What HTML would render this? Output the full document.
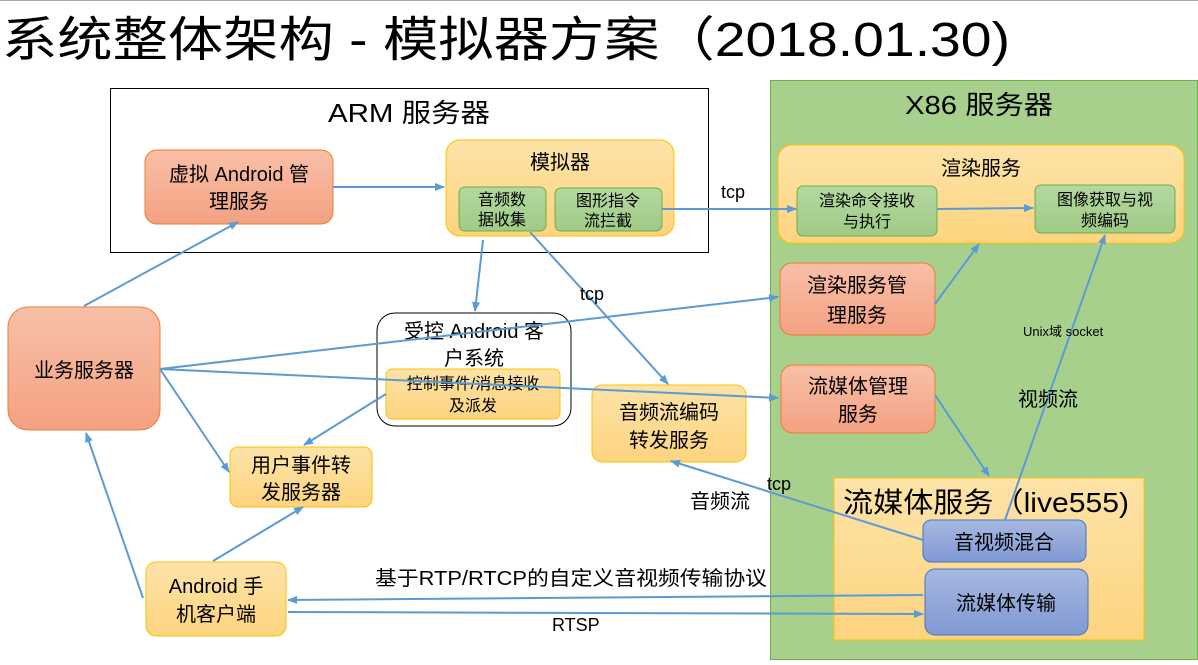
<!DOCTYPE html>
<html><head><meta charset="utf-8"><style>
html,body{margin:0;padding:0;background:#fff;}
svg{display:block;font-family:"Liberation Sans","Noto Sans CJK SC",sans-serif;}
</style></head><body>
<svg width="1198" height="665" viewBox="0 0 1198 665" xmlns="http://www.w3.org/2000/svg">
<defs>
<linearGradient id="sal" x1="0" y1="0" x2="0" y2="1"><stop offset="0" stop-color="#f8c0a8"/><stop offset="1" stop-color="#f4a182"/></linearGradient>
<linearGradient id="org" x1="0" y1="0" x2="0" y2="1"><stop offset="0" stop-color="#fde3a8"/><stop offset="1" stop-color="#fdd47f"/></linearGradient>
<linearGradient id="grn" x1="0" y1="0" x2="0" y2="1"><stop offset="0" stop-color="#b5d8a0"/><stop offset="1" stop-color="#9ecb85"/></linearGradient>
<linearGradient id="blu" x1="0" y1="0" x2="0" y2="1"><stop offset="0" stop-color="#a8b8e0"/><stop offset="1" stop-color="#8099d3"/></linearGradient>
<marker id="ar" markerWidth="10" markerHeight="8" refX="9" refY="4" orient="auto" markerUnits="userSpaceOnUse"><path d="M0,0 L10,4 L0,8 z" fill="#5b9bd5"/></marker>
</defs>
<line x1="0" y1="0.5" x2="1198" y2="0.5" stroke="#aaa"/>
<text x="2" y="56" font-size="48" textLength="1008" lengthAdjust="spacingAndGlyphs">系统整体架构 - 模拟器方案（2018.01.30)</text>

<rect x="770.5" y="80.5" width="427" height="579" fill="#a8d08d" stroke="#70ad47"/>
<text x="905" y="114" font-size="26" textLength="148" lengthAdjust="spacingAndGlyphs">X86 服务器</text>

<rect x="110.5" y="88.5" width="598" height="164" fill="#fff" stroke="#000"/>
<text x="328" y="122" font-size="26" textLength="162" lengthAdjust="spacingAndGlyphs">ARM 服务器</text>

<g font-size="20" text-anchor="middle">
<rect x="145" y="150" width="188" height="74" rx="12" fill="url(#sal)" stroke="#ed7d31"/>
<text x="239" y="181">虚拟 Android 管</text><text x="239" y="208">理服务</text>

<rect x="446" y="140" width="228" height="96" rx="14" fill="url(#org)" stroke="#ffc000"/>
<text x="560" y="169">模拟器</text>
<g font-size="16">
<rect x="459" y="187" width="87" height="44" rx="6" fill="url(#grn)" stroke="#70ad47"/>
<text x="502" y="205">音频数</text><text x="502" y="225">据收集</text>
<rect x="555" y="188" width="107" height="43" rx="6" fill="url(#grn)" stroke="#70ad47"/>
<text x="608" y="206">图形指令</text><text x="608" y="226">流拦截</text>
</g>

<rect x="778" y="145" width="406" height="98" rx="14" fill="url(#org)" stroke="#ffc000"/>
<text x="981" y="175">渲染服务</text>
<g font-size="16">
<rect x="797" y="186" width="140" height="50" rx="6" fill="url(#grn)" stroke="#70ad47"/>
<text x="867" y="206">渲染命令接收</text><text x="867" y="227">与执行</text>
<rect x="1035" y="185" width="140" height="48" rx="6" fill="url(#grn)" stroke="#70ad47"/>
<text x="1105" y="205">图像获取与视</text><text x="1105" y="226">频编码</text>
</g>

<rect x="780" y="263" width="155" height="72" rx="12" fill="url(#sal)" stroke="#ed7d31"/>
<text x="857" y="292">渲染服务管</text><text x="857" y="322">理服务</text>
<rect x="781" y="365" width="154" height="68" rx="12" fill="url(#sal)" stroke="#ed7d31"/>
<text x="858" y="393">流媒体管理</text><text x="858" y="421">服务</text>

<rect x="834" y="478" width="310" height="162" fill="url(#org)" stroke="#ffc000"/>
<text x="843" y="512" font-size="28" text-anchor="start" textLength="286" lengthAdjust="spacingAndGlyphs">流媒体服务（live555)</text>
<rect x="923" y="520" width="163" height="42" rx="8" fill="url(#blu)" stroke="#4472c4"/>
<text x="1004" y="549">音视频混合</text>
<rect x="925" y="569" width="163" height="66" rx="10" fill="url(#blu)" stroke="#4472c4"/>
<text x="1006" y="610">流媒体传输</text>

<rect x="8" y="307" width="152" height="123" rx="20" fill="url(#sal)" stroke="#ed7d31"/>
<text x="84" y="377">业务服务器</text>

<rect x="377" y="313" width="194" height="113" rx="18" fill="#fff" stroke="#000"/>
<text x="474" y="338">受控 Android 客</text><text x="474" y="365">户系统</text>
<rect x="386" y="369" width="174" height="50" rx="6" fill="url(#org)" stroke="#ffc000"/>
<text x="473" y="389" font-size="16">控制事件/消息接收</text><text x="473" y="411" font-size="16">及派发</text>

<rect x="592" y="385" width="154" height="77" rx="10" fill="url(#org)" stroke="#ffc000"/>
<text x="669" y="419">音频流编码</text><text x="669" y="447">转发服务</text>

<rect x="230" y="447" width="142" height="60" rx="8" fill="url(#org)" stroke="#ffc000"/>
<text x="301" y="472">用户事件转</text><text x="301" y="499">发服务器</text>

<rect x="146" y="562" width="140" height="74" rx="10" fill="url(#org)" stroke="#ffc000"/>
<text x="216" y="593">Android 手</text><text x="216" y="621">机客户端</text>
</g>

<g stroke="#5b9bd5" stroke-width="2" fill="none" marker-end="url(#ar)">
<line x1="333" y1="187" x2="444" y2="187"/>
<line x1="662" y1="209" x2="796" y2="209"/>
<line x1="937" y1="209" x2="1033" y2="208"/>
<line x1="84" y1="306" x2="238" y2="222"/>
<line x1="483" y1="240" x2="475" y2="311"/>
<line x1="530" y1="232" x2="668" y2="384"/>
<line x1="160" y1="369" x2="778" y2="297"/>
<line x1="160" y1="369" x2="778" y2="398"/>
<line x1="160" y1="369" x2="229" y2="472"/>
<line x1="386" y1="394" x2="304" y2="445"/>
<line x1="935" y1="304" x2="979" y2="244"/>
<line x1="935" y1="395" x2="989" y2="476"/>
<line x1="1005" y1="520" x2="1105" y2="235"/>
<line x1="923" y1="540" x2="671" y2="461"/>
<line x1="213" y1="561" x2="303" y2="507"/>
<line x1="143" y1="598" x2="86" y2="433"/>
<line x1="923" y1="595" x2="288" y2="600"/>
<line x1="288" y1="612" x2="923" y2="614"/>
</g>

<g font-size="18">
<text x="721" y="198">tcp</text>
<text x="580" y="300">tcp</text>
<text x="767" y="490">tcp</text>
<text x="690" y="508" font-size="20">音频流</text>
<text x="1018" y="406" font-size="20">视频流</text>
<text x="1023" y="336" font-size="13">Unix域 socket</text>
<text x="375" y="585" font-size="20" textLength="392" lengthAdjust="spacingAndGlyphs">基于RTP/RTCP的自定义音视频传输协议</text>
<text x="552" y="631">RTSP</text>
</g>
</svg>
</body></html>
